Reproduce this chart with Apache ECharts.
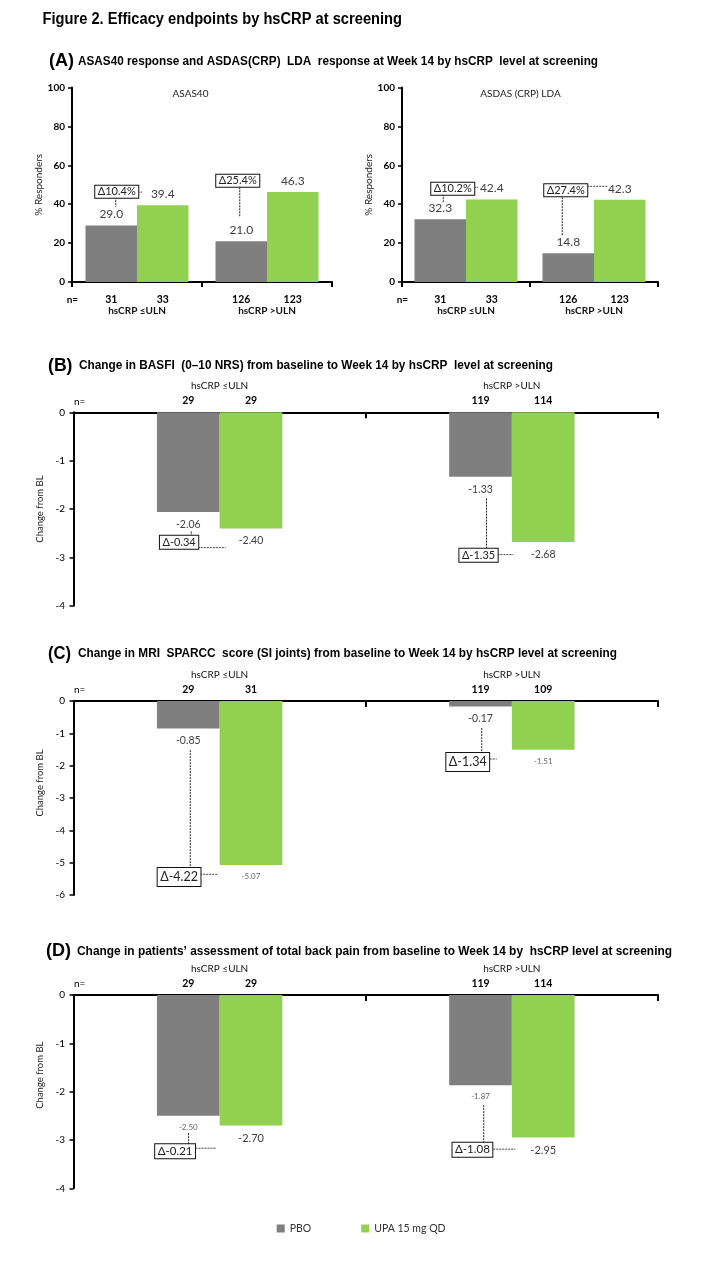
<!DOCTYPE html>
<html><head><meta charset="utf-8">
<script src="https://cdn.jsdelivr.net/npm/echarts@6/dist/echarts.min.js"></script>
<style>html,body{margin:0;padding:0;background:#fff}#c{width:720px;height:1280px}</style>
</head><body><div id="c"></div>
<script>
// ---------------- DATA ----------------
const groups = ['hsCRP ≤ULN', 'hsCRP >ULN'];
const seriesNames = ['PBO', 'UPA 15 mg QD'];
// (A) ASAS40
const asas40PBO = [29.0, 21.0];
const asas40UPA = [39.4, 46.3];
const asas40NPBO = [31, 126];
const asas40NUPA = [33, 123];
const asas40Delta = [10.4, 25.4];
// (A) ASDAS(CRP) LDA
const asdasPBO = [32.3, 14.8];
const asdasUPA = [42.4, 42.3];
const asdasNPBO = [31, 126];
const asdasNUPA = [33, 123];
const asdasDelta = [10.2, 27.4];
// (B) BASFI
const basfiPBO = [-2.06, -1.33];
const basfiUPA = [-2.40, -2.68];
const basfiNPBO = [29, 119];
const basfiNUPA = [29, 114];
const basfiDelta = [-0.34, -1.35];
// (C) MRI SPARCC SI joints
const sparccPBO = [-0.85, -0.17];
const sparccUPA = [-5.07, -1.51];
const sparccNPBO = [29, 119];
const sparccNUPA = [31, 109];
const sparccDelta = [-4.22, -1.34];
// (D) total back pain
const painPBO = [-2.50, -1.87];
const painUPA = [-2.70, -2.95];
const painNPBO = [29, 119];
const painNUPA = [29, 114];
const painDelta = [-0.21, -1.08];
// tick labels
const ticksA = [0, 20, 40, 60, 80, 100];
const ticksB = [-4, -3, -2, -1, 0];
const ticksC = [-6, -5, -4, -3, -2, -1, 0];
const ticksD = [-4, -3, -2, -1, 0];

// ---------------- STYLE / LAYOUT ----------------
const FONT = "Lato, 'Liberation Sans', Arial, sans-serif";
const TFONT = "'Liberation Sans', Arial, sans-serif";
const GRAY = '#7f7f7f', GREEN = '#92d050';

const panels = [
  {type:'resp', pbo:asas40PBO, upa:asas40UPA, nP:asas40NPBO, nU:asas40NUPA, delta:asas40Delta, ticks:ticksA, sub:'ASAS40'},
  {type:'resp', pbo:asdasPBO, upa:asdasUPA, nP:asdasNPBO, nU:asdasNUPA, delta:asdasDelta, ticks:ticksA, sub:'ASDAS (CRP) LDA'},
  {type:'chg', pbo:basfiPBO, upa:basfiUPA, nP:basfiNPBO, nU:basfiNUPA, delta:basfiDelta, ticks:ticksB},
  {type:'chg', pbo:sparccPBO, upa:sparccUPA, nP:sparccNPBO, nU:sparccNUPA, delta:sparccDelta, ticks:ticksC},
  {type:'chg', pbo:painPBO, upa:painUPA, nP:painNPBO, nU:painNUPA, delta:painDelta, ticks:ticksD}
];
const layout = [
  {grid:{left:72, top:87.5, width:260, height:194.5}, barW:51.5, nameGap:27, namePad:0, labelSize:[12,12], small:[[0,0],[0,0]], boxFont:11, boxPad:[0.5,2.5],
   ann:[{box:[5.5,46.4], vl:[4.5,43.6,38.5], hl:[26.5,31,46.2]}, {box:[-3.5,52.1], vl:[-1.5,48.7,33.3], hl:[15.5,19,51.8]}]},
  {grid:{left:402, top:87.5, width:256, height:194.5}, barW:51.5, nameGap:28, namePad:0, labelSize:[12,12], small:[[0,0],[0,0]], boxFont:11, boxPad:[0.5,2.5],
   ann:[{box:[12.5,47.9], vl:[3,45.1,41], hl:[31,38,48.7]}, {box:[-2.5,47.2], vl:[-6,43.6,24.1], hl:[16,39,49.2]}]},
  {grid:{left:73.5, top:412.3, width:584.5, height:193.5}, barW:62.7, nameGap:28, namePad:0, labelSize:[10.5,10.5], small:[[0,0],[0,0]], boxFont:11, boxPad:[1,2.5],
   ann:[{box:[-9.2,-2.684], vl:[3,-2.465,-2.55], hl:[9.5,37.3,-2.797]}, {box:[-2,-2.956], vl:[6,-1.784,-2.85], hl:[14,33,-2.942]}]},
  {grid:{left:73.5, top:701, width:584.5, height:194}, barW:62.7, nameGap:28, namePad:30, labelSize:[10.5,10.5], small:[[0,0],[1,1]], boxFont:12.5, boxPad:[2.5,2.5],
   ann:[{box:[-9.2,-5.44], vl:[2,-1.52,-5.17], hl:[12,29.6,-5.36]}, {box:[-12.8,-1.887], vl:[1.2,-0.84,-1.61], hl:[9.2,16.2,-1.794]}]},
  {grid:{left:73.5, top:995, width:584.5, height:193.3}, barW:62.7, nameGap:28, namePad:33, labelSize:[10.5,11], small:[[1,1],[0,0]], boxFont:11.5, boxPad:[1,2.5],
   ann:[{box:[-13.2,-3.233], vl:[0.3,-2.86,-3.088], hl:[7.3,27.3,-3.171]}, {box:[-8.1,-3.202], vl:[3.2,-2.28,-3.067], hl:[12.7,34.8,-3.19]}]}
];

const titles = [
  {text:'Figure 2. Efficacy endpoints by hsCRP at screening', size:16, l:42.5, r:402, y:19.3},
  {text:'(A)', size:18, l:49, r:74, y:61.5},
  {text:'ASAS40 response and ASDAS(CRP)  LDA  response at Week 14 by hsCRP  level at screening', size:13, l:78, r:598, y:61.5},
  {text:'(B)', size:18, l:48, r:72.5, y:366},
  {text:'Change in BASFI  (0\u201310 NRS) from baseline to Week 14 by hsCRP  level at screening', size:13, l:79, r:553, y:365.5},
  {text:'(C)', size:18, l:48, r:71, y:654},
  {text:'Change in MRI  SPARCC  score (SI joints) from baseline to Week 14 by hsCRP level at screening', size:13, l:78, r:617, y:653.5},
  {text:'(D)', size:18, l:46, r:71, y:951.5},
  {text:'Change in patients\u2019 assessment of total back pain from baseline to Week 14 by  hsCRP level at screening', size:13, l:77, r:672, y:951}
];

// ---------------- BUILD ----------------
const chart = echarts.init(document.getElementById('c'), null, {renderer:'canvas', width:720, height:1280});
const grids = [], xAxes = [], yAxes = [], series = [];

panels.forEach((p, i) => {
  const L = layout[i];
  const resp = p.type === 'resp';
  grids.push(Object.assign({containLabel:false}, L.grid));
  const nStyle = {width:L.barW, align:'center', fontFamily:FONT, fontSize:10.5, fontWeight:'bold', color:'#000', lineHeight: resp ? 11 : 15};
  const gStyle = {fontFamily:FONT, fontSize:10, fontWeight: resp ? 'bold' : 'normal', color:'#111', lineHeight: resp ? 11 : 15};
  xAxes.push({
    gridIndex:i, type:'category', data:groups, position: resp ? 'bottom' : 'top',
    axisLine:{onZero:false, lineStyle:{color:'#000', width:2}},
    axisTick:{show:true, inside:!resp, length: resp ? 5 : 6, lineStyle:{color:'#000', width:2}},
    axisLabel:{interval:0, margin: resp ? 12 : 4,
      formatter:(v, idx) => resp ? `{a|${p.nP[idx]}}{b|${p.nU[idx]}}\n{g|${v}}` : `{g|${v}}\n{a|${p.nP[idx]}}{b|${p.nU[idx]}}`,
      rich:{a:nStyle, b:nStyle, g:gStyle}},
    splitLine:{show:false}
  });
  yAxes.push({
    gridIndex:i, type:'value', min:p.ticks[0], max:p.ticks[p.ticks.length - 1], interval:p.ticks[1] - p.ticks[0],
    name: resp ? '% Responders' : 'Change from BL', nameLocation:'middle', nameGap:L.nameGap,
    nameTextStyle:{fontFamily:FONT, fontSize: resp ? 10 : 9.5, color:'#222', padding:[0,0,0,L.namePad]},
    axisLine:{show:true, onZero:false, lineStyle:{color:'#000', width:2}},
    axisTick:{show:true, length:4, lineStyle:{color:'#000', width:1.5}},
    axisLabel:{fontFamily:FONT, fontSize:10, fontWeight: resp ? 'bold' : 'normal', color:'#000', margin: resp ? 7 : 8.5},
    splitLine:{show:false}
  });
  const mk = (vals, k, color) => ({
    type:'bar', name:seriesNames[k], xAxisIndex:i, yAxisIndex:i, barWidth:L.barW, barGap:'0%',
    itemStyle:{color},
    data: vals.map((v, j) => L.small[k][j] ? {value:v, label:{fontSize:8, color:'#666', distance:7.5}} : v),
    label:{show:true, position: resp ? 'top' : 'bottom', distance: resp ? 5 : 7, fontFamily:FONT,
      fontSize:L.labelSize[k], color:'#404040', formatter: q => Number(q.value).toFixed(resp ? 1 : 2)}
  });
  series.push(mk(p.pbo, 0, GRAY), mk(p.upa, 1, GREEN));
});

chart.setOption({
  animation:false,
  backgroundColor:'#fff',
  grid:grids, xAxis:xAxes, yAxis:yAxes, series:series,
  legend:{data:seriesNames, left:271.7, top:1218, itemWidth:8, itemHeight:8, itemGap:50, icon:'rect',
    textStyle:{fontFamily:FONT, fontSize:10.5, color:'#333'}}
});

// ---------------- ANNOTATIONS (positioned via the chart's own scales) ----------------
const ctx = document.createElement('canvas').getContext('2d');
const g = [];
titles.forEach(t => {
  const font = `bold ${t.size}px ${TFONT}`;
  ctx.font = font;
  const w = ctx.measureText(t.text).width;
  g.push({type:'text', x:t.l, y:t.y, scaleX:(t.r - t.l) / w, scaleY:1,
    style:{text:t.text, font, fill:'#000', align:'left', verticalAlign:'middle'}});
});

panels.forEach((p, i) => {
  const L = layout[i];
  const resp = p.type === 'resp';
  const yOf = v => chart.convertToPixel({yAxisIndex:i}, v);
  const xOf = c => chart.convertToPixel({xAxisIndex:i}, c);
  const gl = L.grid.left, gt = L.grid.top, gb = L.grid.top + L.grid.height;
  // "n=" label
  g.push({type:'text', x: resp ? gl - 5.3 : gl + 0.5, y: resp ? gb + 18 : gt - 11,
    style:{text:'n=', font:`${resp ? 'bold ' : ''}10px ${FONT}`, fill:'#000', align:'left', verticalAlign:'middle'}});
  // sub-title
  if (p.sub) {
    g.push({type:'text', x:gl + 118.5, y:gt + 5.8,
      style:{text:p.sub, font:`10px ${FONT}`, fill:'#222', align:'center', verticalAlign:'middle'}});
  }
  // delta boxes with dashed leaders
  p.delta.forEach((d, j) => {
    const a = L.ann[j];
    const gx = xOf(j) - L.barW / 2;
    const txt = '\u0394' + (resp ? d.toFixed(1) + '%' : d.toFixed(2));
    g.push({type:'line', z:90, shape:{x1:gx + a.vl[0], y1:yOf(a.vl[1]), x2:gx + a.vl[0], y2:yOf(a.vl[2])},
      style:{stroke:'#222', lineWidth:1, lineDash:[2, 1]}});
    g.push({type:'line', z:90, shape:{x1:gx + a.hl[0], y1:yOf(a.hl[2]), x2:gx + a.hl[1], y2:yOf(a.hl[2])},
      style:{stroke:'#444', lineWidth:1, lineDash:[2, 1]}});
    g.push({type:'text', z:100, x:gx + a.box[0], y:yOf(a.box[1]),
      style:{text:txt, font:`${L.boxFont}px ${FONT}`, fill:'#222', align:'center', verticalAlign:'middle',
        backgroundColor:'#fff', borderColor:'#111', borderWidth:1, padding:L.boxPad}});
  });
});

chart.setOption({graphic:g});
</script>
</body></html>
